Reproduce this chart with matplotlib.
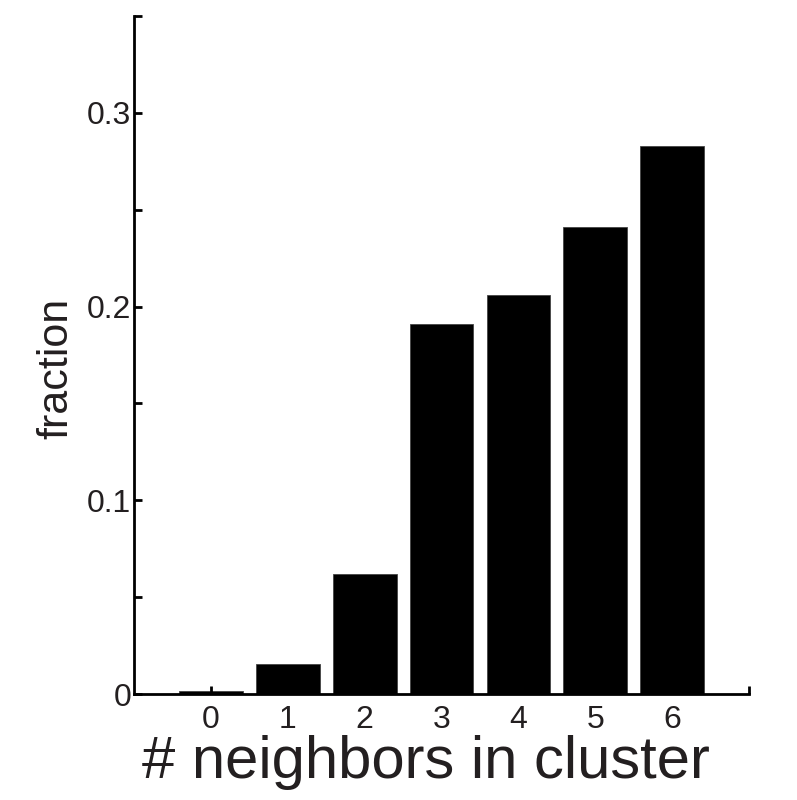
import matplotlib
matplotlib.use("Agg")
import matplotlib.pyplot as plt
import numpy as np

# data
neighbors = [0, 1, 2, 3, 4, 5, 6]
fraction = [0.0017, 0.0153, 0.0618, 0.191, 0.206, 0.241, 0.283]
yticks = [0, 0.05, 0.1, 0.15, 0.2, 0.25, 0.3, 0.35]
ylabels = ["0", "", "0.1", "", "0.2", "", "0.3", ""]

plt.rcParams["font.family"] = ["Liberation Sans", "DejaVu Sans"]

fig = plt.figure(figsize=(7.97, 8.0), dpi=100)
ax = fig.add_axes([0.168, 0.1325, 0.772, 0.8475])

ax.bar(neighbors, fraction, width=0.83, color="black", edgecolor="#444444", linewidth=0.6)

ax.set_xlim(-1, 7)
ax.set_ylim(0, 0.35)

ax.set_xticks(list(neighbors) + [7])
ax.set_xticklabels([str(n) for n in neighbors] + [""])
ax.set_yticks(yticks)
ax.set_yticklabels(ylabels)

for s in ["top", "right"]:
    ax.spines[s].set_visible(False)
for s in ["left", "bottom"]:
    ax.spines[s].set_linewidth(2)

ax.tick_params(axis="both", direction="in", length=6, width=2, labelsize=23, colors="black")
ax.tick_params(axis="x", pad=8)
ax.tick_params(axis="y", pad=2)
for lab in ax.get_xticklabels() + ax.get_yticklabels():
    lab.set_color("#231f20")

ax.set_xlabel("# neighbors in cluster", fontsize=43, color="#231f20")
ax.set_ylabel("fraction", fontsize=31, color="#231f20")
ax.xaxis.set_label_coords(0.475, -0.06)
ax.yaxis.set_label_coords(-0.094, 0.48)

fig.savefig("out.png", dpi=100, facecolor="white")
